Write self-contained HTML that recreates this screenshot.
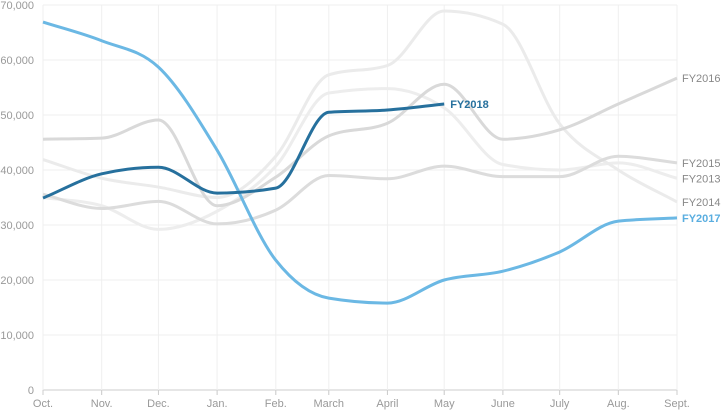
<!DOCTYPE html>
<html><head><meta charset="utf-8"><style>
html,body{margin:0;padding:0;background:#fff;}
svg{display:block;font-family:"Liberation Sans",sans-serif;}
</style></head><body>
<svg id="chart" width="721" height="410"></svg>
<script>
const months = ["Oct.","Nov.","Dec.","Jan.","Feb.","March","April","May","June","July","Aug.","Sept."];
const monthDays = [0,31,61,92,123,151,182,212,243,273,304,335];
const yTicks = [0,10000,20000,30000,40000,50000,60000,70000];
const seriesNames = ["FY2013","FY2014","FY2015","FY2016","FY2017","FY2018"];
const fy2013 = [35000,33500,29200,32500,40700,54000,54800,51300,41000,40000,41300,38500];
const fy2014 = [41900,38500,36900,35000,42500,57300,59000,68900,66500,48400,40000,34200];
const fy2015 = [35600,33000,34300,30200,32700,39000,38400,40700,38800,38800,42500,41300];
const fy2016 = [45600,45800,49100,33500,38700,46200,48500,55600,45600,47300,52000,56700];
const fy2017 = [66900,63500,58700,43600,23600,16700,15800,20000,21600,25100,30700,31300];
const fy2018 = [34900,39300,40500,35800,36700,50500,50900,52000];

const svg = document.getElementById('chart');
const NS = "http://www.w3.org/2000/svg";
const x0=43, x1=677, y0=390, y1=5;
const xs = d => x0 + (d/335)*(x1-x0);
const ys = v => y0 - (v/70000)*(y0-y1);
function mk(tag, attrs, parent){const e=document.createElementNS(NS,tag);for(const k in attrs)e.setAttribute(k,attrs[k]);(parent||svg).appendChild(e);return e;}

yTicks.forEach(t=>{
  const l=mk('line',{x1:x0,x2:x1,y1:ys(t),y2:ys(t),stroke:t===0?'#ccc':'#efefef','stroke-width':1});
  
  
  const tx=mk('text',{x:34,y:ys(t)+4,'text-anchor':'end','font-size':11,fill:'#999'});
  tx.textContent=t.toLocaleString('en-US');
  
  
});
months.forEach((m,i)=>{
  const x=xs(monthDays[i]);
  const l=mk('line',{x1:x,x2:x,y1:y1,y2:y0+5,stroke:'#efefef','stroke-width':1});
  
  
  const tk=mk('line',{x1:x,x2:x,y1:y0,y2:y0+5,stroke:'#ccc','stroke-width':1});
  
  
  const tx=mk('text',{x:x,y:407,'text-anchor':'middle','font-size':11,fill:'#999'});
  tx.textContent=m;
  
  
});

function monotonePath(pts){
  const n=pts.length; if(n<2)return '';
  const dx=[],dy=[],m=[];
  for(let i=0;i<n-1;i++){dx[i]=pts[i+1][0]-pts[i][0];dy[i]=pts[i+1][1]-pts[i][1];m[i]=dy[i]/dx[i];}
  const t=[m[0]];
  for(let i=1;i<n-1;i++){
    if(m[i-1]*m[i]<=0)t[i]=0;
    else{const p=(m[i-1]*dx[i]+m[i]*dx[i-1])/(dx[i-1]+dx[i]);
      t[i]=(Math.sign(m[i-1])+Math.sign(m[i]))*Math.min(Math.abs(m[i-1]),Math.abs(m[i]),0.5*Math.abs(p));}
  }
  t[n-1]=m[n-2];
  let d=`M${pts[0][0]},${pts[0][1]}`;
  for(let i=0;i<n-1;i++){const h=dx[i]/3;
    d+=`C${pts[i][0]+h},${pts[i][1]+h*t[i]} ${pts[i+1][0]-h},${pts[i+1][1]-h*t[i+1]} ${pts[i+1][0]},${pts[i+1][1]}`;}
  return d;
}
const seriesData=[fy2013,fy2014,fy2015,fy2016,fy2017,fy2018];
const colors=['#ededed','#ebebeb','#dcdcdc','#d9d9d9','#6bb8e4','#26709d'];
const labelColors=['#888','#888','#888','#888','#5aaee0','#26709d'];
const order=[0,1,2,3,4,5];
order.forEach(i=>{
  const vals=seriesData[i];
  const pts=vals.map((v,j)=>[xs(monthDays[j]),ys(v)]);
  const p=mk('path',{d:monotonePath(pts),fill:'none',stroke:colors[i],'stroke-width':i>=4?3:3});
  
  
  const last=pts[pts.length-1];
  const bold=i>=4;
  const tx=mk('text',{x:last[0]+(i===5?6:5),y:last[1]+4,'font-size':11,fill:labelColors[i],'font-weight':bold?'bold':'normal'});
  tx.textContent=seriesNames[i];
  
  
});
</script>
</body></html>
